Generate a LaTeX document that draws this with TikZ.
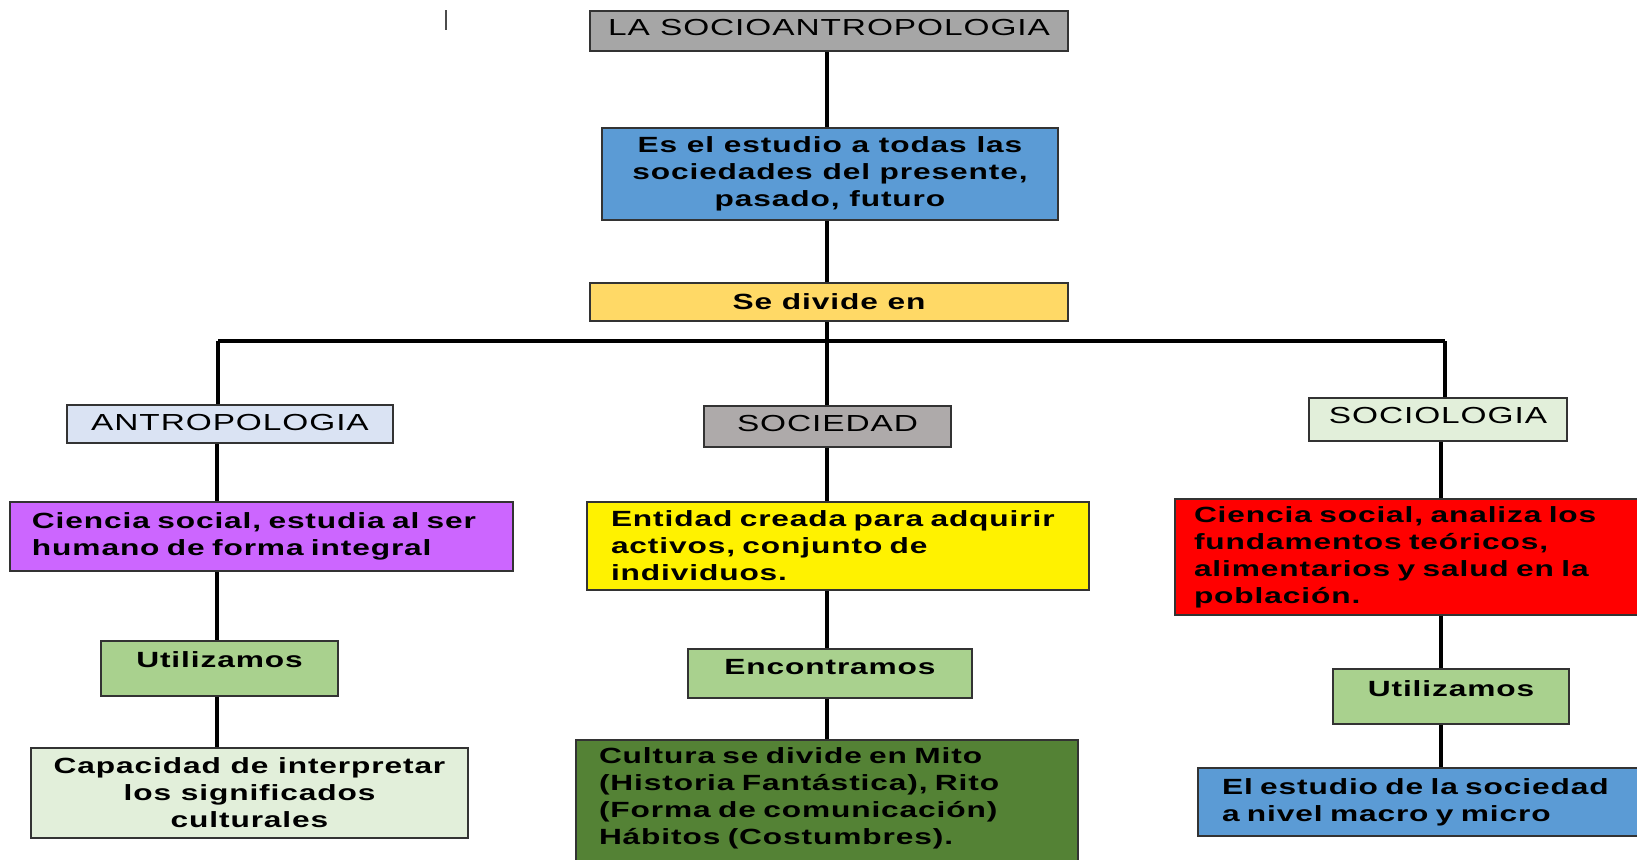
\documentclass[tikz,border=0pt]{standalone}
\usepackage{fontspec}
\newfontfamily\mapfont{Liberation Sans}[FakeStretch=1.44,LetterSpace=4]
\definecolor{titlegray}{HTML}{A6A6A6}
\definecolor{defblue}{HTML}{5B9BD5}
\definecolor{divgold}{HTML}{FFD966}
\definecolor{antroblue}{HTML}{DAE3F3}
\definecolor{sociegray}{HTML}{AEAAAA}
\definecolor{paleg}{HTML}{E2EFDA}
\definecolor{purp}{HTML}{CC66FF}
\definecolor{midg}{HTML}{A9D18E}
\definecolor{darkg}{HTML}{548235}
\begin{document}
\begin{tikzpicture}[
	x=0.5pt, y=-0.5pt,
	box/.style={draw=black!80, line width=1pt, inner sep=0pt, anchor=north west, align=center,
		font=\mapfont\fontsize{11.6}{13.5}\selectfont},
	bbox/.style={box, font=\mapfont\bfseries\fontsize{11}{13.5}\selectfont},
	lnk/.style={line width=1.8pt},
]
\path[use as bounding box, fill=white] (0,0) rectangle (1637,859);

% top of the map
\node[box, fill=titlegray, minimum width=239pt, minimum height=20pt, text depth=4pt] (title) at (589,10) {LA SOCIOANTROPOLOGIA};
\node[bbox, fill=defblue, minimum width=228pt, minimum height=46pt] (def) at (601,127) {Es el estudio a todas las\\sociedades del presente,\\pasado, futuro};
\node[bbox, fill=divgold, minimum width=239pt, minimum height=19pt] (divide) at (589,282) {Se divide en};

% three branches
\node[box, fill=antroblue, minimum width=163pt, minimum height=19pt, text depth=2pt] (antro) at (66,404) {ANTROPOLOGIA};
\node[box, fill=sociegray, minimum width=123.5pt, minimum height=20.5pt, text depth=3pt] (socied) at (703,405) {SOCIEDAD};
\node[box, fill=paleg, minimum width=129pt, minimum height=21.5pt, text depth=4pt] (sociol) at (1308,397) {SOCIOLOGIA};

\node[bbox, fill=purp, minimum width=251.5pt, minimum height=34.5pt, text width=229.5pt, align=left] (antrodef) at (9,501) {Ciencia social, estudia al ser\\humano de forma integral};
\node[bbox, fill=yellow, minimum width=251pt, minimum height=44pt, text width=227pt, align=left] (sociedef) at (586,501) {Entidad creada para adquirir\\activos, conjunto de\\individuos.};
\node[bbox, fill=red, minimum width=243pt, minimum height=58pt, text width=224pt, align=left] (socioldef) at (1174,498) {Ciencia social, analiza los\\fundamentos teóricos,\\alimentarios y salud en la\\población.};

\node[bbox, fill=midg, minimum width=118.5pt, minimum height=27.5pt, text depth=9pt] (util1) at (100,640) {Utilizamos};
\node[bbox, fill=midg, minimum width=142pt, minimum height=24.5pt, text depth=7pt] (encon) at (687,648) {Encontramos};
\node[bbox, fill=midg, minimum width=118pt, minimum height=27.5pt, text depth=8pt] (util2) at (1332,668) {Utilizamos};

\node[bbox, fill=paleg, minimum width=218.5pt, minimum height=45pt] (capac) at (30,747) {Capacidad de interpretar\\los significados\\culturales};
\node[bbox, fill=darkg, minimum width=251pt, minimum height=68pt, text width=228pt, align=left, text depth=52pt] (cultura) at (575,739) {Cultura se divide en Mito\\(Historia Fantástica), Rito\\(Forma de comunicación)\\Hábitos (Costumbres).};
\node[bbox, fill=defblue, minimum width=231.5pt, minimum height=34pt, text width=207.5pt, align=left] (estudio) at (1197,767) {El estudio de la sociedad\\a nivel macro y micro};

% connectors
\coordinate (colA) at (217,0);
\coordinate (colB) at (827,0);
\coordinate (colC) at (1441,0);
\coordinate (barL) at (218,341);
\coordinate (barM) at (827,341);
\coordinate (barR) at (1445,341);

\draw[lnk] (title.south -| colB) -- (def.north -| colB);
\draw[lnk] (def.south -| colB) -- (divide.north -| colB);
\draw[lnk] (divide.south -| colB) -- (barM);
\draw[lnk] (barL) -- (barR);
\draw[lnk] (barL) -- (antro.north -| barL);
\draw[lnk] (barM) -- (socied.north -| barM);
\draw[lnk] (barR) -- (sociol.north -| barR);

\draw[lnk] (antro.south -| colA) -- (antrodef.north -| colA);
\draw[lnk] (antrodef.south -| colA) -- (util1.north -| colA);
\draw[lnk] (util1.south -| colA) -- (capac.north -| colA);

\draw[lnk] (socied.south -| colB) -- (sociedef.north -| colB);
\draw[lnk] (sociedef.south -| colB) -- (encon.north -| colB);
\draw[lnk] (encon.south -| colB) -- (cultura.north -| colB);

\draw[lnk] (sociol.south -| colC) -- (socioldef.north -| colC);
\draw[lnk] (socioldef.south -| colC) -- (util2.north -| colC);
\draw[lnk] (util2.south -| colC) -- (estudio.north -| colC);

% stray mark
\draw[line width=1pt, black!70] (446,10) -- (446,30);
\end{tikzpicture}
\end{document}
